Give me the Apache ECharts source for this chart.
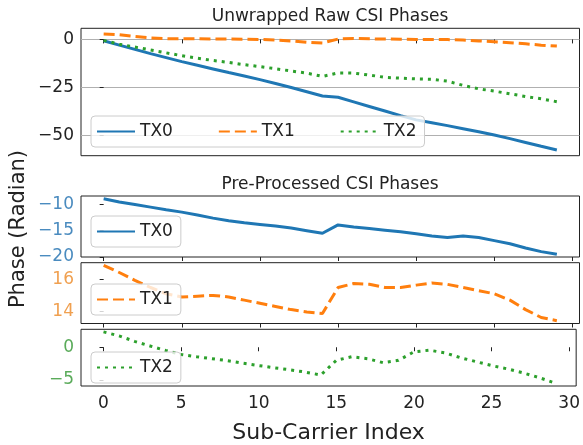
<!DOCTYPE html>
<html>
<head>
<meta charset="utf-8">
<script src="https://cdn.jsdelivr.net/npm/echarts@6/dist/echarts.min.js"></script>
<style>
html,body{margin:0;padding:0;background:#fff;}
#chart{width:583px;height:445px;}
</style>
</head>
<body>
<div id="chart"></div>
<script>
// Sub-carrier indices
const subCarrier = [0,1,2,3,4,5,6,7,8,9,10,11,12,13,14,15,16,17,18,19,20,21,22,23,24,25,26,27,28,29];
const xTicks = [0,5,10,15,20,25,30];

// Panel 1: Unwrapped raw CSI phases
const rawTX0 = [-0.7,-3.0,-5.2,-7.4,-9.5,-11.6,-13.5,-15.4,-17.3,-19.1,-21.0,-23.0,-25.1,-27.3,-29.5,-30.2,-32.6,-35.0,-37.4,-39.8,-42.0,-43.5,-45.0,-46.6,-48.2,-49.9,-51.8,-53.8,-55.8,-57.7];
const rawTX1 = [2.8,2.4,1.5,0.8,0.4,0.3,0.3,0.2,0.2,0.1,0.0,-0.3,-0.8,-1.5,-1.9,0.2,0.5,0.3,0.2,0.1,0.0,0.0,-0.1,-0.3,-0.8,-1.2,-1.7,-2.3,-3.0,-3.5];
const rawTX2 = [-0.5,-2.5,-4.0,-5.5,-7.0,-8.5,-9.8,-11.0,-12.0,-13.2,-14.2,-15.3,-16.5,-17.6,-19.3,-17.5,-17.6,-18.6,-19.8,-20.2,-20.6,-20.8,-21.8,-24.0,-25.8,-27.0,-28.4,-29.8,-31.0,-32.5];

// Panels 2-4: Pre-processed CSI phases
const procTX0 = [-8.9,-9.5,-10.0,-10.5,-11.0,-11.45,-12.0,-12.6,-13.1,-13.5,-13.8,-14.1,-14.5,-15.0,-15.5,-13.9,-14.3,-14.6,-14.9,-15.2,-15.6,-16.0,-16.3,-16.0,-16.3,-16.9,-17.5,-18.3,-19.0,-19.5];
const procTX1 = [16.9,16.45,15.95,15.5,15.1,14.9,14.95,15.0,14.9,14.7,14.5,14.3,14.1,13.95,13.85,15.5,15.75,15.7,15.5,15.5,15.65,15.78,15.7,15.5,15.3,15.1,14.7,14.1,13.6,13.4];
const procTX2 = [2.35,1.75,0.9,0.2,-0.5,-1.1,-1.45,-1.75,-2.05,-2.45,-2.8,-3.15,-3.45,-3.8,-4.25,-2.0,-1.45,-1.75,-2.35,-2.0,-0.7,-0.45,-0.85,-1.6,-2.2,-2.8,-3.3,-3.9,-4.6,-5.4];

// Tick labels
const yTicks0 = [-50,-25,0];
const yTicks1 = [-20,-15,-10];
const yTicks2 = [14,16];
const yTicks3 = [-5,0];

const FONT = 'DejaVu Sans';
const C0 = '#1f77b4', C1 = '#ff7f0e', C2 = '#2ca02c';
const styleTX0 = {color: C0, width: 3, type: 'solid'};
const styleTX1 = {color: C1, width: 3, type: [11,5], cap: 'butt'};
const styleTX2 = {color: C2, width: 3, type: [3,5], cap: 'butt'};

const pairs = arr => subCarrier.map((x,i)=>[x,arr[i]]);
const minus = v => String(v).replace('-', '\u2212');

const gridDefs = [
  {top: 28.3, height: 127.4},
  {top: 196, height: 61},
  {top: 262.7, height: 60.8},
  {top: 329.3, height: 62.2}
];
const yRanges = [[-60.7,5.8],[-20.03,-8.37],[13.22,17.07],[-5.93,2.75]];
const yTickSets = [yTicks0,yTicks1,yTicks2,yTicks3];
const yLabelColors = ['#222','#4a8bbf','#f0a050','#5aab5a'];

const grids = gridDefs.map(g => ({left: 81, width: 498.5, top: g.top, height: g.height,
  show: true, borderColor: '#222', borderWidth: 1, backgroundColor: '#fff', containLabel: false}));

const xAxes = gridDefs.map((g,i) => ({
  type: 'value', gridIndex: i, min: -1.45, max: 30.45,
  axisLine: {show: false},
  axisTick: {show: true, customValues: xTicks, length: 4, lineStyle: {color: '#222', width: 1}},
  axisLabel: {show: i === 3, customValues: xTicks, fontFamily: FONT, fontSize: 17, color: '#222', margin: 9},
  splitLine: {show: false},
  name: i === 3 ? 'Sub-Carrier Index' : '',
  nameLocation: 'middle', nameGap: 36,
  nameTextStyle: {fontFamily: FONT, fontSize: 22, color: '#222'}
}));

const yAxes = gridDefs.map((g,i) => ({
  type: 'value', gridIndex: i, min: yRanges[i][0], max: yRanges[i][1],
  axisLine: {show: false},
  axisTick: {show: true, customValues: yTickSets[i], length: 4, lineStyle: {color: '#222', width: 1}},
  axisLabel: {show: true, customValues: yTickSets[i], fontFamily: FONT, fontSize: 17, color: yLabelColors[i], margin: 7,
    formatter: v => minus(v)},
  splitLine: {show: i === 0, lineStyle: {color: '#b0b0b0', width: 1}}
}));

function line(name, data, style, idx) {
  return {type: 'line', name: name, xAxisIndex: idx, yAxisIndex: idx, data: pairs(data),
    symbol: 'none', showSymbol: false, lineStyle: style, itemStyle: {color: style.color},
    animation: false, z: 3};
}

const legendBase = {
  orient: 'horizontal', itemWidth: 38, itemHeight: 14, itemGap: 45,
  backgroundColor: 'rgba(255,255,255,0.8)', borderColor: '#cccccc', borderWidth: 1, borderRadius: 4,
  padding: [7,8,7,5], selectedMode: false,
  itemStyle: {opacity: 0, color: 'rgba(0,0,0,0)', borderWidth: 0},
  textStyle: {fontFamily: FONT, fontSize: 17, color: '#222'}
};

const option = {
  backgroundColor: '#fff',
  animation: false,
  grid: grids,
  xAxis: xAxes,
  yAxis: yAxes,
  legend: [
    Object.assign({}, legendBase, {left: 91, top: 116, data: ['TX0','TX1','TX2']}),
    Object.assign({}, legendBase, {left: 91, top: 216, data: ['TX0']}),
    Object.assign({}, legendBase, {left: 91, top: 284, data: ['TX1']}),
    Object.assign({}, legendBase, {left: 91, top: 352, data: ['TX2']})
  ],
  graphic: [
    {type: 'text', style: {text: 'Unwrapped Raw CSI Phases', x: 330, y: 17, textAlign: 'center', textVerticalAlign: 'middle', fontFamily: FONT, fontSize: 17, fill: '#222'}},
    {type: 'text', style: {text: 'Pre-Processed CSI Phases', x: 330, y: 185, textAlign: 'center', textVerticalAlign: 'middle', fontFamily: FONT, fontSize: 17, fill: '#222'}},
    {type: 'text', x: 19, y: 229, rotation: Math.PI/2, style: {text: 'Phase (Radian)', x: 0, y: 0, textAlign: 'center', textVerticalAlign: 'middle', fontFamily: FONT, fontSize: 21, fill: '#222'}}
  ],
  series: [
    line('TX0', rawTX0, styleTX0, 0),
    line('TX1', rawTX1, styleTX1, 0),
    line('TX2', rawTX2, styleTX2, 0),
    line('TX0', procTX0, styleTX0, 1),
    line('TX1', procTX1, styleTX1, 2),
    line('TX2', procTX2, styleTX2, 3)
  ]
};

const chart = echarts.init(document.getElementById('chart'), null, {renderer: 'canvas'});
chart.setOption(option);
</script>
</body>
</html>
